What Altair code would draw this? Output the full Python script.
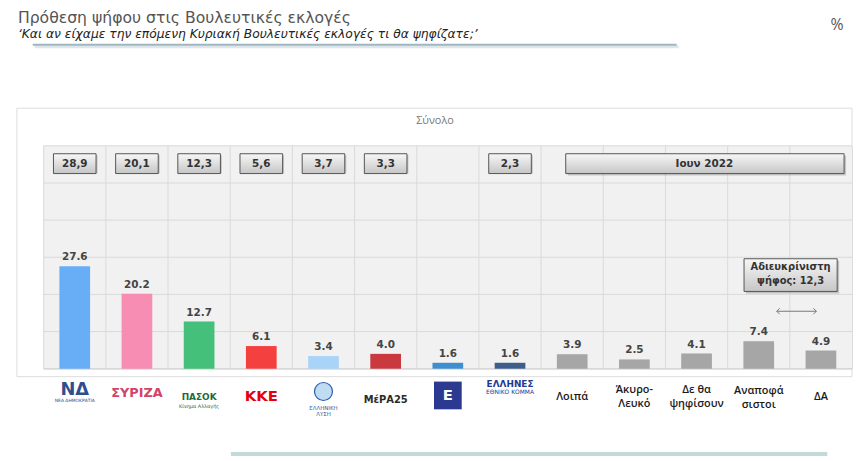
import altair as alt
import pandas as pd

# ---------------- data ----------------
CATEGORIES = ["ΝΔ", "ΣΥΡΙΖΑ", "ΠΑΣΟΚ", "ΚΚΕ", "Ελληνική Λύση", "ΜέΡΑ25",
              "Πλεύση Ελευθερίας", "ΕΛΛΗΝΕΣ", "Λοιπά", "Άκυρο-Λευκό",
              "Δε θα ψηφίσουν", "Αναποφάσιστοι", "ΔΑ"]
VALUES = [27.6, 20.2, 12.7, 6.1, 3.4, 4.0, 1.6, 1.6, 3.9, 2.5, 4.1, 7.4, 4.9]
PREVIOUS = ["28,9", "20,1", "12,3", "5,6", "3,7", "3,3", "", "2,3", "", "", "", "", ""]
LOGO_MAIN = ["ΝΔ", "ΣΥΡΙΖΑ", "ΠΑΣΟΚ", "ΚΚΕ", "", "ΜέΡΑ25", "Ε", "ΕΛΛΗΝΕΣ",
             "", "", "", "", ""]
LOGO_SUB = ["ΝΕΑ ΔΗΜΟΚΡΑΤΙΑ", "", "Κίνημα Αλλαγής", "", "ΕΛΛΗΝΙΚΗ\nΛΥΣΗ", "", "",
            "ΕΘΝΙΚΟ ΚΟΜΜΑ", "", "", "", "", ""]
CAT_LABELS = ["", "", "", "", "", "", "", "", "Λοιπά", "Άκυρο-\nΛευκό",
              "Δε θα\nψηφίσουν", "Αναποφά\nσιστοι", "ΔΑ"]
GRID_VALUES = [10, 20, 30, 40, 50, 60]
PREV_PERIOD = "Ιουν 2022"
UNDECIDED_NOTE = "Αδιευκρίνιστη\nψήφος: 12,3"
TITLE = "Πρόθεση ψήφου στις Βουλευτικές εκλογές"
SUBTITLE = "‘Και αν είχαμε την επόμενη Κυριακή Βουλευτικές εκλογές τι θα ψηφίζατε;’"
PANEL = "Σύνολο"

# ---------------- styles ----------------
BAR_COLORS = ["#68AEF6", "#F78DB2", "#45C07A", "#F4403F", "#A9D3F7", "#C9393F",
              "#3E8FD0", "#3D5E8C", "#A6A6A6", "#A6A6A6", "#A6A6A6", "#A6A6A6", "#A6A6A6"]
LOGO_COLORS = ["#2F4E8E", "#D2436A", "#1F6B35", "#E3000F", "#2B5DA6", "#2A2A2A",
               "#FFFFFF", "#1F3A93", "#1A1A1A", "#1A1A1A", "#1A1A1A", "#1A1A1A", "#1A1A1A"]
LOGO_SIZES = [18, 13, 9, 15, 6, 10, 15, 9, 6, 6, 6, 6, 6]
LOGO_Y = [247, 250, 254, 253, 247, 257, 252, 240, 0, 0, 0, 0, 0]
SUB_SIZES = [4.5, 4.5, 5, 5, 5.5, 5, 5, 6, 5, 5, 5, 5, 5]
SUB_Y = [258, 260, 263, 260, 265, 260, 260, 249, 0, 0, 0, 0, 0]
CAT_Y = [0, 0, 0, 0, 0, 0, 0, 0, 248, 241, 241, 242, 248]

W, H = 816, 225

df = pd.DataFrame({
    "cat": CATEGORIES, "value": VALUES, "prev": PREVIOUS,
    "main": LOGO_MAIN, "sub": LOGO_SUB, "clab": CAT_LABELS,
    "bar_color": BAR_COLORS, "logo_color": LOGO_COLORS, "logo_size": LOGO_SIZES,
    "logo_y": LOGO_Y, "sub_size": SUB_SIZES, "sub_y": SUB_Y, "cat_y": CAT_Y,
})
df["vlabel"] = [f"{v:.1f}" for v in VALUES]

xscale = alt.Scale(domain=CATEGORIES, paddingInner=0, paddingOuter=0)
yscale = alt.Scale(domain=[0, 60], nice=False)
XC = alt.X("cat:N", scale=xscale, sort=None, axis=None)
YV = alt.Y("value:Q", scale=yscale, axis=None)

box_grad = alt.Gradient(gradient="linear",
                        stops=[alt.GradientStop(color="#F7F7F7", offset=0),
                               alt.GradientStop(color="#C6C6C6", offset=1)],
                        x1=0, x2=0, y1=0, y2=1)

one = pd.DataFrame({"t": [""]})


def txt(s, x, y, **kw):
    return alt.Chart(pd.DataFrame({"t": [s]})).mark_text(**kw).encode(
        x=alt.value(x), y=alt.value(y), text="t:N")


def prect(x, x2, y, y2, **kw):
    return alt.Chart(one).mark_rect(**kw).encode(
        x=alt.value(x), x2=alt.value(x2), y=alt.value(y), y2=alt.value(y2))


base = alt.Chart(df)

# plot background and grid
plot_bg = prect(0, W, 0, H, fill="#F1F1F1")
hgrid = alt.Chart(pd.DataFrame({"g": GRID_VALUES})).mark_rule(color="#DADADA", strokeWidth=1).encode(
    y=alt.Y("g:Q", scale=yscale, axis=None))
vgrid = base.mark_rule(color="#DADADA", strokeWidth=1).encode(
    x=alt.X("cat:N", scale=xscale, sort=None, axis=None, bandPosition=0))
baseline = alt.Chart(one).mark_rule(color="#D0D0D0", strokeWidth=1).encode(
    x=alt.value(0), x2=alt.value(W), y=alt.value(H))

bars = base.mark_bar(size=31).encode(x=XC, y=YV, color=alt.Color("bar_color:N", scale=None))
vlabels = base.mark_text(baseline="bottom", dy=-4, font="DejaVu Sans", fontWeight="bold",
                         fontSize=10.5, color="#444444").encode(x=XC, y=YV, text="vlabel:N")

prev_df = base.transform_filter("datum.prev != ''")
prev_shadow = prev_df.mark_bar(size=43, color="#000000", opacity=0.18, xOffset=1.5, yOffset=1.5).encode(
    x=XC, y=alt.value(8), y2=alt.value(28))
prev_boxes = prev_df.mark_bar(size=43, fill=box_grad, stroke="#555555", strokeWidth=1).encode(
    x=XC, y=alt.value(8), y2=alt.value(28))
prev_text = prev_df.mark_text(font="DejaVu Sans", fontWeight="bold", fontSize=10.5,
                              color="#333333").encode(x=XC, y=alt.value(18), text="prev:N")

# logo substitutes / category labels under the plot
square = base.transform_filter("datum.main == 'Ε'").mark_square(
    size=784, color="#2B3990", opacity=1, filled=True).encode(x=XC, y=alt.value(252))
circle = base.transform_filter("datum.cat == 'Ελληνική Λύση'").mark_circle(
    size=330, color="#BFDCF3", opacity=1, stroke="#2B5DA6", strokeWidth=1.2).encode(
    x=XC, y=alt.value(248))
logo_main = base.transform_filter("datum.main != ''").mark_text(
    baseline="middle", font="DejaVu Sans", fontWeight="bold").encode(
    x=XC, y=alt.Y("logo_y:Q", scale=None), text="main:N",
    color=alt.Color("logo_color:N", scale=None), size=alt.Size("logo_size:Q", scale=None))
logo_sub = base.transform_filter("datum.sub != ''").mark_text(
    baseline="middle", lineBreak="\n", lineHeight=6, font="DejaVu Sans").encode(
    x=XC, y=alt.Y("sub_y:Q", scale=None), text="sub:N",
    color=alt.Color("logo_color:N", scale=None), size=alt.Size("sub_size:Q", scale=None))
cat_labels = base.transform_filter("datum.clab != ''").mark_text(
    lineBreak="\n", baseline="top", font="Open Sans", fontWeight=600, fontSize=11,
    lineHeight=13.5, color="#1A1A1A").encode(
    x=XC, y=alt.Y("cat_y:Q", scale=None), text="clab:N")

frame = prect(-27, W, -38, H + 8, fill="#FFFFFF", fillOpacity=0, stroke="#DDDDDD", strokeWidth=1)

period_shadow = prect(529, 810, 10, 30, color="#000000", opacity=0.18)
period_box = prect(527, 808, 8, 28, fill=box_grad, stroke="#555555", strokeWidth=1)
period_text = txt(PREV_PERIOD, 667, 18, font="DejaVu Sans", fontWeight="bold", fontSize=10.5,
                  color="#333333")

note_shadow = prect(709, 803, 116, 149, color="#000000", opacity=0.2)
note_box = prect(707, 801, 114, 147, fill=box_grad, stroke="#555555", strokeWidth=1)
note_text = txt(UNDECIDED_NOTE, 754, 117, lineBreak="\n", lineHeight=14, baseline="top",
                font="DejaVu Sans", fontWeight="bold", fontSize=10, color="#333333")

arrow_line = alt.Chart(one).mark_rule(color="#777777", strokeWidth=1).encode(
    x=alt.value(740), x2=alt.value(780), y=alt.value(167))
arrow_r = alt.Chart(one).mark_point(shape="M-1,-1L0,0L-1,1", filled=False, size=36,
                                    color="#777777", strokeWidth=1, opacity=1).encode(
    x=alt.value(780), y=alt.value(167))
arrow_l = alt.Chart(one).mark_point(shape="M1,-1L0,0L1,1", filled=False, size=36,
                                    color="#777777", strokeWidth=1, opacity=1).encode(
    x=alt.value(740), y=alt.value(167))

title = txt(TITLE, -26, -124, align="left", baseline="alphabetic", font="DejaVu Sans",
            fontSize=15.8, color="#555555")
subtitle = txt(SUBTITLE, -26, -109, align="left", baseline="alphabetic", font="DejaVu Sans",
               fontStyle="italic", fontSize=12.4, color="#222222")
underline_sh = alt.Chart(one).mark_rule(color="#DDE6EA", strokeWidth=3).encode(
    x=alt.value(-9), x2=alt.value(641), y=alt.value(-100))
underline = alt.Chart(one).mark_rule(color="#9FB6C0", strokeWidth=2).encode(
    x=alt.value(-11), x2=alt.value(639), y=alt.value(-102))
pct = txt("%", 801, -122, align="center", baseline="middle", font="Open Sans", fontSize=16,
          color="#555555")
panel = txt(PANEL, 395, -25, align="center", baseline="middle", font="Open Sans", fontSize=11,
            color="#777777")
bottom_line = alt.Chart(one).mark_rule(color="#C3DADB", strokeWidth=4).encode(
    x=alt.value(189), x2=alt.value(791), y=alt.value(311))

chart = alt.layer(
    frame, plot_bg, hgrid, vgrid, baseline, bars, vlabels, prev_shadow, prev_boxes, prev_text,
    period_shadow, period_box, period_text,
    note_shadow, note_box, note_text, arrow_line, arrow_l, arrow_r,
    square, circle, logo_main, logo_sub, cat_labels,
    title, subtitle, underline_sh, underline, pct, panel, bottom_line,
).properties(
    width=W, height=H,
    autosize=alt.AutoSizeParams(type="none"),
    padding={"left": 36, "top": 137, "right": 2, "bottom": 88},
).configure_view(stroke=None).configure(background="#FFFFFF")

chart.save("out.html", embed_options={"renderer": "svg", "actions": False})
